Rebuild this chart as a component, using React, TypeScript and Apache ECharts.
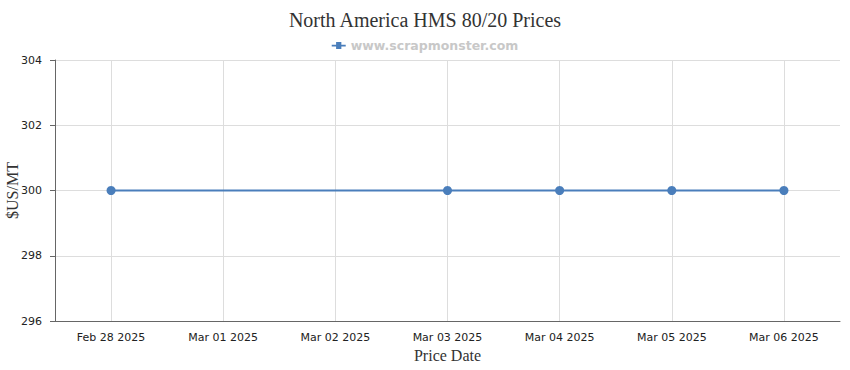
import React, { useEffect, useRef } from "react";
import * as echarts from "echarts";

const categories = ["Feb 28 2025", "Mar 01 2025", "Mar 02 2025", "Mar 03 2025", "Mar 04 2025", "Mar 05 2025", "Mar 06 2025"];
const prices: (number | null)[] = [300, null, null, 300, 300, 300, 300];
const seriesName = "www.scrapmonster.com";
const titleText = "North America HMS 80/20 Prices";

const legendIcon = "path://M0,5 L5,5 L5,2 L11,2 L11,5 L16,5 L16,7 L11,7 L11,10 L5,10 L5,7 L0,7 Z";

export default function App() {
  const ref = useRef<HTMLDivElement>(null);
  useEffect(() => {
    document.body.style.margin = "0";
    const chart = echarts.init(ref.current!, null, { renderer: "svg" });
    chart.setOption({
      animation: false,
      title: {
        text: titleText,
        left: "center",
        top: 5,
        textStyle: { fontFamily: "Liberation Serif", fontSize: 20, fontWeight: "normal", color: "#333" },
      },
      legend: {
        top: 34,
        left: "center",
        itemWidth: 14,
        itemHeight: 7,
        itemGap: 6,
        textStyle: { fontFamily: "DejaVu Sans", fontSize: 12.5, fontWeight: "bold", color: "#c8c8c8" },
        data: [{ name: seriesName, icon: legendIcon }],
      },
      grid: { left: 55, right: 10, top: 60, bottom: 49, containLabel: false, outerBoundsMode: "none" },
      xAxis: {
        type: "category",
        data: categories,
        boundaryGap: true,
        name: "Price Date",
        nameLocation: "middle",
        nameGap: 26,
        nameMoveOverlap: false,
        nameTextStyle: { fontFamily: "Liberation Serif", fontSize: 16, color: "#333" },
        axisLine: { lineStyle: { color: "#666" } },
        axisTick: { alignWithLabel: true, length: 5, lineStyle: { color: "#666" } },
        axisLabel: { fontFamily: "DejaVu Sans", fontSize: 11, color: "#222", margin: 11, interval: 0 },
        splitLine: { show: true, alignWithLabel: true, lineStyle: { color: "#ddd" } },
      },
      yAxis: {
        type: "value",
        min: 296,
        max: 304,
        interval: 2,
        name: "$US/MT",
        nameLocation: "middle",
        nameGap: 35,
        nameMoveOverlap: false,
        nameTextStyle: { fontFamily: "Liberation Serif", fontSize: 16, color: "#333" },
        axisLine: { show: true, lineStyle: { color: "#666" } },
        axisTick: { show: true, length: 5, lineStyle: { color: "#666" } },
        axisLabel: { fontFamily: "DejaVu Sans", fontSize: 11, color: "#222", margin: 13 },
        splitLine: { lineStyle: { color: "#ddd" } },
      },
      series: [
        {
          name: seriesName,
          type: "line",
          data: prices,
          connectNulls: true,
          symbol: "circle",
          symbolSize: 9,
          itemStyle: { color: "#4a7ebb" },
          lineStyle: { color: "#4a7ebb", width: 2 },
        },
      ],
    });
    return () => chart.dispose();
  }, []);
  return <div ref={ref} style={{ width: 850, height: 370 }} />;
}
